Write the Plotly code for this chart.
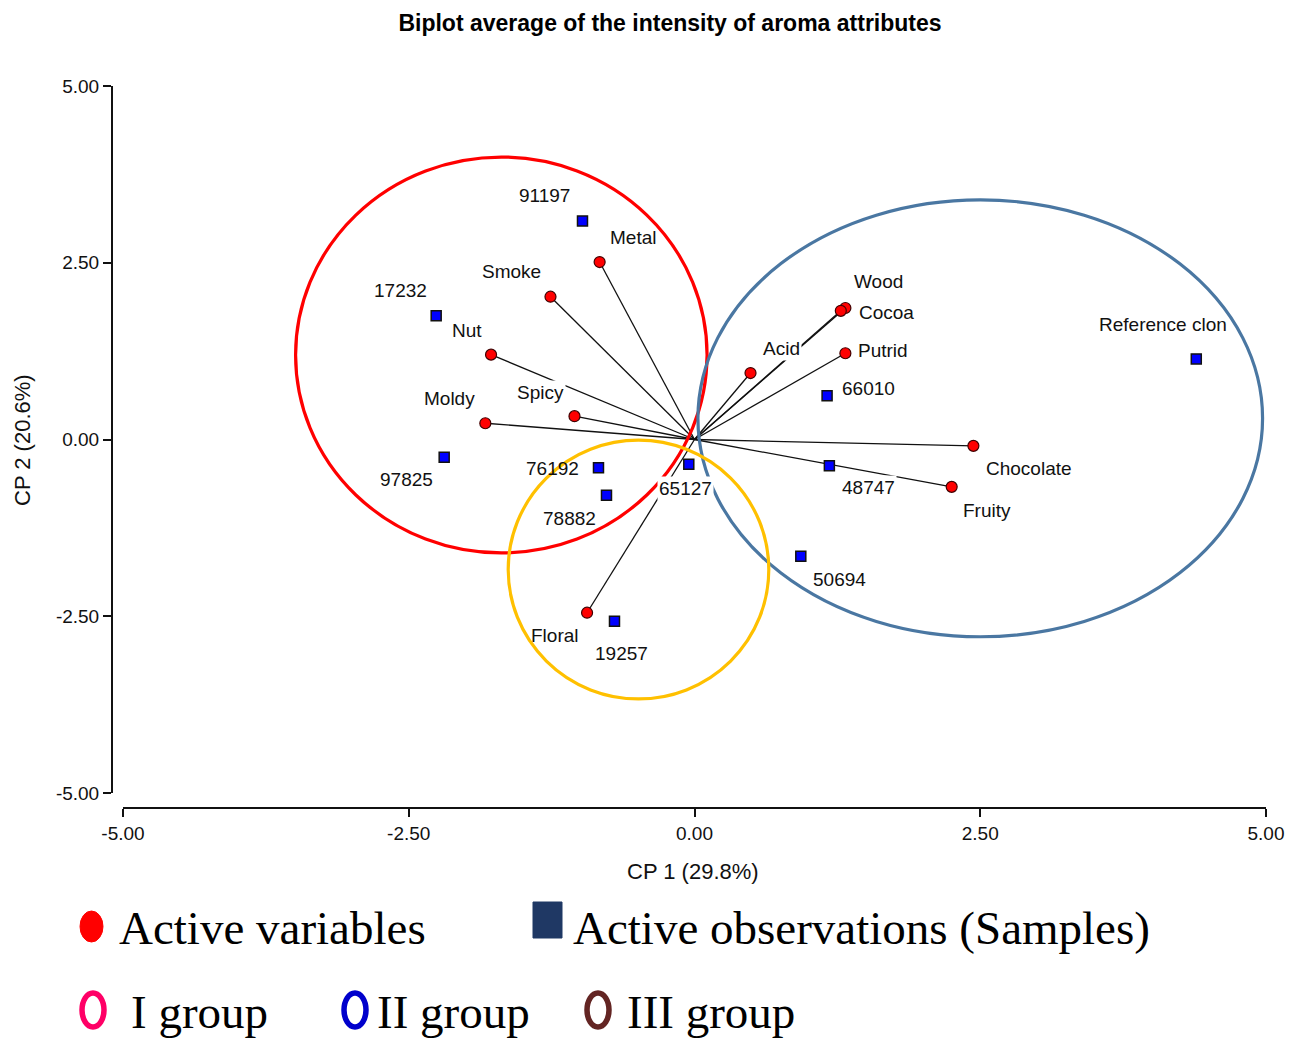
import plotly.graph_objects as go

W, H = 1296, 1038

# Active variables (aroma attributes): loadings on CP1 / CP2
var_names = ["Metal", "Smoke", "Nut", "Spicy", "Moldy", "Floral",
             "Acid", "Wood", "Cocoa", "Putrid", "Chocolate", "Fruity"]
var_cp1 = [-0.83, -1.26, -1.78, -1.05, -1.83, -0.94, 0.49, 1.32, 1.28, 1.32, 2.44, 2.25]
var_cp2 = [2.51, 2.02, 1.20, 0.33, 0.23, -2.45, 0.94, 1.86, 1.82, 1.22, -0.09, -0.67]

# Active observations (samples): scores on CP1 / CP2
sample_names = ["91197", "17232", "97825", "76192", "78882", "65127",
                "19257", "66010", "48747", "50694", "Reference clon"]
sample_cp1 = [-0.98, -2.26, -2.19, -0.84, -0.77, -0.05, -0.70, 1.16, 1.18, 0.93, 4.39]
sample_cp2 = [3.09, 1.75, -0.25, -0.40, -0.79, -0.35, -2.57, 0.62, -0.37, -1.65, 1.14]

# Group enclosures (centre and semi-axes, in CP units)
group_names = ["I group", "II group", "III group"]
group_cx = [-1.69, 2.50, -0.49]
group_cy = [1.195, 0.30, -1.84]
group_rx = [1.80, 2.47, 1.14]
group_ry = [2.80, 3.09, 1.83]

axis_ticks = [-5.0, -2.5, 0.0, 2.5, 5.0]
axis_tick_text = [f"{v:.2f}" for v in axis_ticks]  # plain hyphen minus
x_title = "CP 1 (29.8%)"
y_title = "CP 2 (20.6%)"
chart_title = "Biplot average of the intensity of aroma attributes"

# ---- styling ----
SANS = "Liberation Sans, Arial, sans-serif"
SERIF = "Liberation Serif, Times New Roman, serif"
group_line_colors = ["#FF0000", "#4A77A2", "#FFC000"]
group_key_colors = ["#FF0066", "#0000CC", "#632523"]

# label offsets in screen pixels (dx right, dy down) from each marker
var_label_off = {
    "Metal": (33, -25), "Smoke": (-39, -25), "Nut": (-24, -24), "Spicy": (-34, -24),
    "Moldy": (-36, -25), "Floral": (-32, 23), "Acid": (31, -25), "Wood": (33, -27),
    "Cocoa": (46, 2), "Putrid": (38, -3), "Chocolate": (56, 23), "Fruity": (35, 24),
}
sample_label_off = {
    "91197": (-38, -26), "17232": (-36, -25), "97825": (-38, 22), "76192": (-46, 1),
    "78882": (-37, 23), "65127": (-3, 24), "19257": (7, 32), "66010": (41, -7),
    "48747": (39, 22), "50694": (39, 23), "Reference clon": (-33, -34),
}
# labels that sit over a loading vector and mask it
masked_labels = {"Spicy", "Acid", "48747", "65127"}


def px_x(p):
    return p / W


def px_y(p):
    return 1 - p / H


fig = go.Figure()

# loading vectors from the origin
lx, ly = [], []
for a, b in zip(var_cp1, var_cp2):
    lx += [0, a, None]
    ly += [0, b, None]
fig.add_trace(go.Scatter(x=lx, y=ly, mode="lines",
                         line=dict(color="#111111", width=1.3),
                         hoverinfo="skip", showlegend=False))

# sample scores
fig.add_trace(go.Scatter(x=sample_cp1, y=sample_cp2, mode="markers",
                         marker=dict(symbol="square", size=10, color="#0000FF",
                                     line=dict(color="#111111", width=1.5)),
                         text=sample_names, showlegend=False))

# variable loadings
fig.add_trace(go.Scatter(x=var_cp1, y=var_cp2, mode="markers",
                         marker=dict(symbol="circle", size=11, color="#FF0000",
                                     line=dict(color="#400000", width=1.2)),
                         text=var_names, showlegend=False))

# group ellipses
for cx, cy, rx, ry, col in zip(group_cx, group_cy, group_rx, group_ry, group_line_colors):
    fig.add_shape(type="circle", xref="x", yref="y",
                  x0=cx - rx, x1=cx + rx, y0=cy - ry, y1=cy + ry,
                  line=dict(color=col, width=3.2), layer="above")

annotations = []
for names, xs, ys, offs in ((var_names, var_cp1, var_cp2, var_label_off),
                            (sample_names, sample_cp1, sample_cp2, sample_label_off)):
    for n, a, b in zip(names, xs, ys):
        dx, dy = offs[n]
        annotations.append(dict(
            x=a, y=b, xref="x", yref="y", text=n, showarrow=False,
            xshift=dx, yshift=-dy, xanchor="center", yanchor="middle",
            font=dict(family=SANS, size=19, color="#111111"),
            bgcolor="white" if n in masked_labels else None,
            borderpad=1,
        ))

# axis titles
annotations.append(dict(x=px_x(693), y=px_y(871), xref="paper", yref="paper",
                        text=x_title, showarrow=False,
                        xanchor="center", yanchor="middle",
                        font=dict(family=SANS, size=22, color="#111111")))
annotations.append(dict(x=px_x(22), y=px_y(440), xref="paper", yref="paper",
                        text=y_title, showarrow=False, textangle=-90,
                        xanchor="center", yanchor="middle",
                        font=dict(family=SANS, size=22, color="#111111")))

# key below the plot
key_font = dict(family=SERIF, size=47, color="#000000")
annotations += [
    dict(x=px_x(117), y=px_y(928), xref="paper", yref="paper", text="Active variables",
         showarrow=False, xanchor="left", yanchor="middle", font=key_font),
    dict(x=px_x(571), y=px_y(928), xref="paper", yref="paper",
         text="Active observations (Samples)",
         showarrow=False, xanchor="left", yanchor="middle", font=key_font),
    dict(x=px_x(129), y=px_y(1012), xref="paper", yref="paper", text=group_names[0],
         showarrow=False, xanchor="left", yanchor="middle", font=key_font),
    dict(x=px_x(375), y=px_y(1012), xref="paper", yref="paper", text=group_names[1],
         showarrow=False, xanchor="left", yanchor="middle", font=key_font),
    dict(x=px_x(625), y=px_y(1012), xref="paper", yref="paper", text=group_names[2],
         showarrow=False, xanchor="left", yanchor="middle", font=key_font),
]

fig.add_shape(type="circle", xref="paper", yref="paper",
              x0=px_x(80), x1=px_x(103), y0=px_y(942), y1=px_y(911),
              fillcolor="#FF0000", line=dict(color="#FF0000", width=1))
fig.add_shape(type="rect", xref="paper", yref="paper",
              x0=px_x(533), x1=px_x(562), y0=px_y(938), y1=px_y(902),
              fillcolor="#1F3864", line=dict(color="#1F3864", width=1))
for cxp, col in zip((93, 355, 598), group_key_colors):
    fig.add_shape(type="circle", xref="paper", yref="paper",
                  x0=px_x(cxp - 11), x1=px_x(cxp + 11),
                  y0=px_y(1027), y1=px_y(993),
                  line=dict(color=col, width=5.5))

axis_common = dict(
    range=[-5, 5], anchor="free",
    tickvals=axis_ticks, ticktext=axis_tick_text,
    ticks="outside", ticklen=8, tickwidth=2, tickcolor="#111111",
    showline=True, linecolor="#111111", linewidth=2,
    showgrid=False, zeroline=False, automargin=False,
    tickfont=dict(family=SANS, size=19, color="#111111"),
)

fig.update_layout(
    template="none",
    width=W, height=H,
    margin=dict(l=0, r=0, t=0, b=0),
    paper_bgcolor="white", plot_bgcolor="white",
    showlegend=False,
    title=dict(text=chart_title, x=px_x(670), xanchor="center",
               y=px_y(23), yanchor="middle",
               font=dict(family=SANS, size=23, color="#000000", weight="bold")),
    xaxis=dict(domain=[px_x(123), px_x(1266)], position=px_y(808), **axis_common),
    yaxis=dict(domain=[px_y(793), px_y(86)], position=px_x(112), **axis_common),
    annotations=annotations,
)

fig.write_html("out.html")
